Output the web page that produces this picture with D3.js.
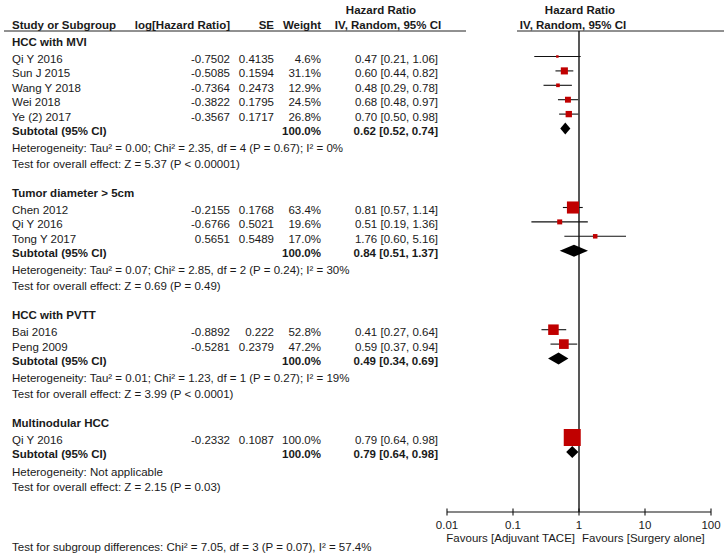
<!DOCTYPE html>
<html><head><meta charset="utf-8">
<script src="https://cdn.jsdelivr.net/npm/d3@7"></script>
<style>
body{margin:0;background:#fff}
svg{display:block}
text{font-family:"Liberation Sans",Arial,sans-serif;font-size:11.5px;fill:#1a1a1a}
.b{font-weight:bold}
</style>
</head><body><svg id="c" width="724" height="553"></svg>
<script>
// ---- data ----
const groups = ["HCC with MVI","Tumor diameter > 5cm","HCC with PVTT","Multinodular HCC"];
const studyGroup = [0,0,0,0,0,1,1,1,2,2,3];
const studyNames = ["Qi Y 2016","Sun J 2015","Wang Y 2018","Wei 2018","Ye (2) 2017","Chen 2012","Qi Y 2016","Tong Y 2017","Bai 2016","Peng 2009","Qi Y 2016"];
const logHR = ["-0.7502","-0.5085","-0.7364","-0.3822","-0.3567","-0.2155","-0.6766","0.5651","-0.8892","-0.5281","-0.2332"];
const seVals = ["0.4135","0.1594","0.2473","0.1795","0.1717","0.1768","0.5021","0.5489","0.222","0.2379","0.1087"];
const weights = [4.6,31.1,12.9,24.5,26.8,63.4,19.6,17.0,52.8,47.2,100.0];
const hr   = [0.47,0.60,0.48,0.68,0.70,0.81,0.51,1.76,0.41,0.59,0.79];
const hrLo = [0.21,0.44,0.29,0.48,0.50,0.57,0.19,0.60,0.27,0.37,0.64];
const hrHi = [1.06,0.82,0.78,0.97,0.98,1.14,1.36,5.16,0.64,0.94,0.98];
const subHR = [0.62,0.84,0.49,0.79];
const subLo = [0.52,0.51,0.34,0.64];
const subHi = [0.74,1.37,0.69,0.98];
const heterogeneity = [
  "Heterogeneity: Tau² = 0.00; Chi² = 2.35, df = 4 (P = 0.67); I² = 0%",
  "Heterogeneity: Tau² = 0.07; Chi² = 2.85, df = 2 (P = 0.24); I² = 30%",
  "Heterogeneity: Tau² = 0.01; Chi² = 1.23, df = 1 (P = 0.27); I² = 19%",
  "Heterogeneity: Not applicable"];
const overallEffect = [
  "Test for overall effect: Z = 5.37 (P < 0.00001)",
  "Test for overall effect: Z = 0.69 (P = 0.49)",
  "Test for overall effect: Z = 3.99 (P < 0.0001)",
  "Test for overall effect: Z = 2.15 (P = 0.03)"];
const subgroupTest = "Test for subgroup differences: Chi² = 7.05, df = 3 (P = 0.07), I² = 57.4%";
const axisTicks = [0.01,0.1,1,10,100];
const axisTickLabels = ["0.01","0.1","1","10","100"];
const favourLeft = "Favours [Adjuvant TACE]";
const favourRight = "Favours [Surgery alone]";

// ---- layout ----
const svg = d3.select("#c");
const col = {name:12, logHR:230, se:274, weight:321, hrText:438};
const x = d3.scaleLog().domain([0.01,100]).range([447,711]);
const axisY = 512, headLineY = 31;
const size = d3.scalePow().exponent(0.75).domain([0,100]).range([0,17]);
const red = "#c00000";

// row positions (text centre y)
const rows = [];
let y = 41.5;
groups.forEach((g,gi)=>{
  rows.push({type:"group", gi, y});
  y += 17.5;
  studyGroup.forEach((sg,i)=>{ if(sg===gi){ rows.push({type:"study", i, y}); y += 14.4; } });
  rows.push({type:"sub", gi, y});
  y += 17.2;
  rows.push({type:"het", gi, y});
  y += 15.3;
  rows.push({type:"test", gi, y});
  y += 29;
});

function txt(xp, yp, s, anchor, cls){
  return svg.append("text").attr("x",xp).attr("y",yp+4).attr("text-anchor",anchor||"start")
    .attr("class",cls||null).text(s);
}

// header
txt(381, 9.5, "Hazard Ratio", "middle", "b");
txt(388, 24.5, "IV, Random, 95% CI", "middle", "b");
txt(x(1)+1, 9.5, "Hazard Ratio", "middle", "b");
txt(x(1)-6, 24.5, "IV, Random, 95% CI", "middle", "b");
txt(col.name, 24.5, "Study or Subgroup", "start", "b");
txt(col.logHR, 24.5, "log[Hazard Ratio]", "end", "b");
txt(col.se, 24.5, "SE", "end", "b");
txt(col.weight, 24.5, "Weight", "end", "b");
svg.append("line").attr("x1",4).attr("x2",466).attr("y1",headLineY).attr("y2",headLineY).attr("stroke","#222").attr("stroke-width",1);
svg.append("line").attr("x1",517).attr("x2",724).attr("y1",headLineY).attr("y2",headLineY).attr("stroke","#222").attr("stroke-width",1);

// reference line at 1
svg.append("line").attr("x1",x(1)).attr("x2",x(1))
  .attr("y1",headLineY).attr("y2",axisY).attr("stroke","#111").attr("stroke-width",1.4);

const markOff = -2.5;
const fmt = v => v.toFixed(2);
rows.forEach(r=>{
  if(r.type==="group"){
    txt(col.name, r.y, groups[r.gi], "start", "b");
  } else if(r.type==="study"){
    const i=r.i;
    txt(col.name, r.y, studyNames[i]);
    txt(col.logHR, r.y, logHR[i], "end");
    txt(col.se, r.y, seVals[i], "end");
    txt(col.weight, r.y, weights[i].toFixed(1)+"%", "end");
    txt(col.hrText, r.y, `${fmt(hr[i])} [${fmt(hrLo[i])}, ${fmt(hrHi[i])}]`, "end");
    const my = r.y+markOff;
    svg.append("line").attr("x1",x(hrLo[i])).attr("x2",x(hrHi[i])).attr("y1",my).attr("y2",my)
      .attr("stroke","#111").attr("stroke-width",1.1);
    const s = Math.max(2.5,size(weights[i]));
    svg.append("rect").attr("x",x(hr[i])-s/2).attr("y",my-s/2).attr("width",s).attr("height",s).attr("fill",red);
  } else if(r.type==="sub"){
    const gi=r.gi;
    txt(col.name, r.y, "Subtotal (95% CI)", "start", "b");
    txt(col.weight, r.y, "100.0%", "end", "b");
    txt(col.hrText, r.y, `${fmt(subHR[gi])} [${fmt(subLo[gi])}, ${fmt(subHi[gi])}]`, "end", "b");
    const my = r.y+markOff, h=6;
    const pts = [[x(subLo[gi]),my],[x(subHR[gi]),my-h],[x(subHi[gi]),my],[x(subHR[gi]),my+h]];
    svg.append("path").attr("d",d3.line()(pts)+"Z").attr("fill","#000");
  } else if(r.type==="het"){
    txt(col.name, r.y, heterogeneity[r.gi]);
  } else {
    txt(col.name, r.y, overallEffect[r.gi]);
  }
});

// axis
const ax = svg.append("g");
ax.append("line").attr("x1",x(0.01)).attr("x2",x(100)).attr("y1",axisY).attr("y2",axisY).attr("stroke","#111").attr("stroke-width",1.1);
axisTicks.forEach((t,k)=>{
  ax.append("line").attr("x1",x(t)).attr("x2",x(t)).attr("y1",axisY-3.5).attr("y2",axisY+3.5).attr("stroke","#111").attr("stroke-width",1.1);
  txt(x(t), axisY+12.5, axisTickLabels[k], "middle");
});
txt(x(1)-4, axisY+26, favourLeft, "end");
txt(x(1)+3, axisY+26, favourRight, "start");

txt(col.name, 547, subgroupTest);
</script></body></html>
